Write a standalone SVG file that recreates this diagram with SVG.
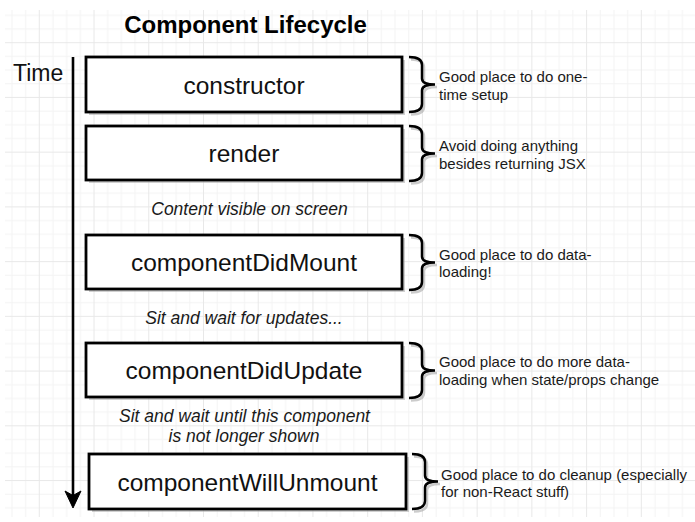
<svg xmlns="http://www.w3.org/2000/svg" width="695" height="522" viewBox="0 0 695 522">
<defs>
<pattern id="grid" patternUnits="userSpaceOnUse" x="38.8" y="42.2" width="54.73" height="54.73">
<path d="M0 0.5H54.73M0 14.18H54.73M0 27.87H54.73M0 41.55H54.73" stroke="#f3f3f3" stroke-width="1" fill="none"/>
<path d="M0.5 0V54.73M14.18 0V54.73M27.87 0V54.73M41.55 0V54.73" stroke="#f3f3f3" stroke-width="1" fill="none"/>
<path d="M0 0.5H54.73M0.5 0V54.73" stroke="#e8e8e8" stroke-width="1" fill="none"/>
</pattern>
<path id="brace" d="M0 0 Q13 0 13 8 L13 21.5 Q13 27.5 26 27.5 Q13 27.5 13 33.5 L13 47 Q13 55 0 55"/>
</defs>
<style>
.box{fill:#fff;stroke:#000;stroke-width:2.8}
.shadow{fill:#aaa;opacity:0.55}
.lbl{font-family:"Liberation Sans",Arial,sans-serif;font-size:24.5px;fill:#111;text-anchor:middle}
.note{font-family:"Liberation Sans",Arial,sans-serif;font-size:15px;fill:#1a1a1a}
.ital{font-family:"Liberation Sans",Arial,sans-serif;font-size:17.5px;font-style:italic;fill:#1a1a1a;text-anchor:middle}
.br{fill:none;stroke:#000;stroke-width:2.5}
.brs{fill:none;stroke:#999;stroke-width:2.5;opacity:0.5}
</style>
<rect x="0" y="0" width="695" height="522" fill="#fff"/>
<rect x="5" y="10" width="690" height="507" fill="url(#grid)"/>

<text x="245.5" y="32.5" font-family="Liberation Sans,Arial,sans-serif" font-size="24" font-weight="bold" fill="#000" text-anchor="middle">Component Lifecycle</text>
<text x="13" y="81" font-family="Liberation Sans,Arial,sans-serif" font-size="23" fill="#111">Time</text>

<g id="connectors">
<line x1="73" y1="57" x2="73" y2="496" stroke="#000" stroke-width="2.6"/>
<path d="M73 508 L65 491 L73 495.5 L81 491 Z" fill="#000" stroke="#000" stroke-width="1" stroke-linejoin="miter"/>
</g>

<g id="constructor">
<rect class="shadow" x="89" y="60" width="316" height="55"/>
<rect class="box" x="86" y="57" width="316" height="55"/>
<text class="lbl" x="244" y="93.5">constructor</text>
<use href="#brace" class="brs" x="411" y="59.5"/>
<use href="#brace" class="br" x="409" y="57"/>
<text class="note" x="439" y="82">Good place to do one-</text>
<text class="note" x="439" y="99.5">time setup</text>
</g>

<g id="render">
<rect class="shadow" x="89" y="129" width="316" height="54"/>
<rect class="box" x="86" y="126" width="316" height="54"/>
<text class="lbl" x="244" y="162">render</text>
<use href="#brace" class="brs" x="411" y="128.5"/>
<use href="#brace" class="br" x="409" y="126"/>
<text class="note" x="439" y="151">Avoid doing anything</text>
<text class="note" x="439" y="168.5">besides returning JSX</text>
</g>

<text class="ital" x="249.5" y="215">Content visible on screen</text>

<g id="componentDidMount">
<rect class="shadow" x="89" y="238" width="316" height="54"/>
<rect class="box" x="86" y="235" width="316" height="54"/>
<text class="lbl" x="244" y="271">componentDidMount</text>
<use href="#brace" class="brs" x="411" y="237.5"/>
<use href="#brace" class="br" x="409" y="235"/>
<text class="note" x="439" y="259.5">Good place to do data-</text>
<text class="note" x="439" y="277">loading!</text>
</g>

<text class="ital" x="244" y="324">Sit and wait for updates...</text>

<g id="componentDidUpdate">
<rect class="shadow" x="89" y="346" width="316" height="54"/>
<rect class="box" x="86" y="343" width="316" height="54"/>
<text class="lbl" x="244" y="379">componentDidUpdate</text>
<use href="#brace" class="brs" x="411" y="345.5"/>
<use href="#brace" class="br" x="409" y="343"/>
<text class="note" x="439" y="367">Good place to do more data-</text>
<text class="note" x="439" y="384.5">loading when state/props change</text>
</g>

<text class="ital" x="244.5" y="421.5">Sit and wait until this component</text>
<text class="ital" x="244" y="441.5">is not longer shown</text>

<g id="componentWillUnmount">
<rect class="shadow" x="92" y="457" width="317" height="55"/>
<rect class="box" x="89" y="454" width="317" height="55"/>
<text class="lbl" x="247.5" y="490.5">componentWillUnmount</text>
<use href="#brace" class="brs" x="414" y="456.5"/>
<use href="#brace" class="br" x="412" y="454"/>
<text class="note" x="441" y="479.5">Good place to do cleanup (especially</text>
<text class="note" x="441" y="497">for non-React stuff)</text>
</g>
</svg>
